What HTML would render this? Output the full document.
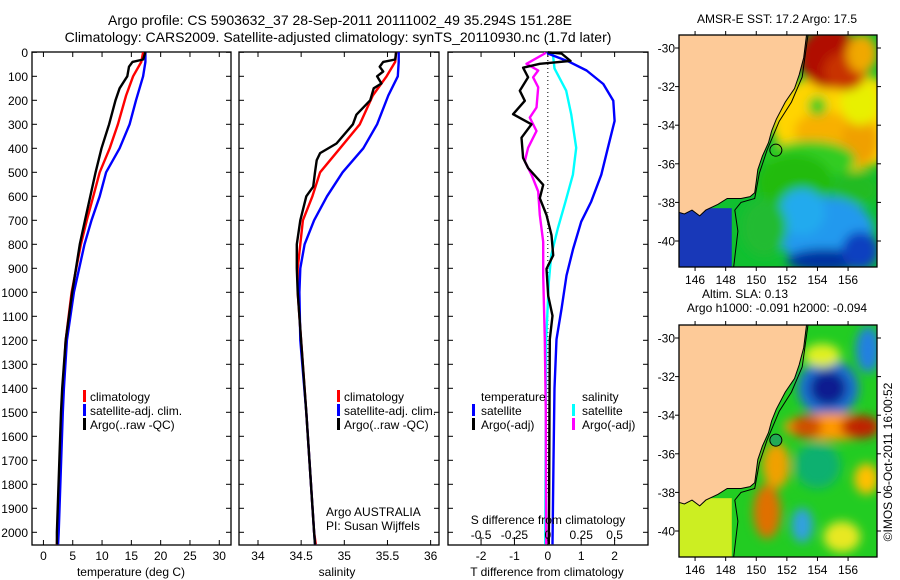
<!DOCTYPE html>
<html><head><meta charset="utf-8">
<style>
html,body{margin:0;padding:0;background:#fff;}
svg{display:block;font-family:"Liberation Sans",sans-serif;}
</style></head>
<body>
<svg id="fig" width="900" height="580" viewBox="0 0 900 580" xmlns="http://www.w3.org/2000/svg">
<defs>
<filter id="blur4" x="-50%" y="-50%" width="200%" height="200%"><feGaussianBlur stdDeviation="5"/></filter>
<clipPath id="clipTop"><rect x="679" y="35" width="198" height="232"/></clipPath>
<clipPath id="clipBot"><rect x="679" y="325" width="198" height="232"/></clipPath>
</defs>
<text x="340" y="25" font-size="14" text-anchor="middle">Argo profile: CS 5903632_37 28-Sep-2011 20111002_49 35.294S 151.28E</text>
<text x="338" y="42" font-size="14" text-anchor="middle">Climatology: CARS2009. Satellite-adjusted climatology: synTS_20110930.nc (1.7d later)</text>
<g id="charts"></g>
<g id="maps"></g>
<text transform="translate(892,462) rotate(-90)" font-size="12" text-anchor="middle">©IMOS 06-Oct-2011 16:00:52</text>
</svg>
<script>
// ---- Data ----
var tDepthRed = [0,40,100,180,300,400,500,600,700,800,1000,1200,1400,1500,2000,2050];
var tempClim = [17.0,16.7,15.3,14.1,12.7,11.3,9.6,8.5,7.4,6.4,4.8,3.8,3.3,3.1,2.4,2.3];
var tDepthBlue = [0,40,100,200,300,400,500,600,700,800,1000,1200,1400,1500,2000,2050];
var tempSat = [17.4,17.4,17.0,15.8,14.7,13.0,10.7,9.6,8.2,7.0,5.2,4.0,3.5,3.3,2.6,2.5];
var tDepthArgo = [0,30,40,60,100,150,200,300,400,500,600,700,800,1000,1200,1400,1500,2000,2050];
var tempArgo = [17.4,17.0,15.2,14.6,14.3,13.0,12.3,11.2,9.9,8.9,8.0,7.1,6.2,4.9,3.8,3.2,3.0,2.3,2.3];

var sDepthRed = [0,40,100,180,300,400,500,600,700,800,900,1000,1200,1500,2000,2050];
var salClim = [35.60,35.59,35.49,35.33,35.18,34.95,34.72,34.63,34.52,34.49,34.46,34.46,34.50,34.56,34.65,34.67];
var sDepthBlue = [0,40,100,180,300,400,500,600,700,800,900,1000,1200,1500,2000,2050];
var salSat = [35.63,35.63,35.62,35.51,35.38,35.22,34.98,34.80,34.65,34.54,34.49,34.48,34.49,34.56,34.65,34.66];
var sDepthArgo = [0,30,40,60,80,100,130,150,200,260,300,380,420,450,500,560,600,700,800,900,1000,1200,1500,2000,2050];
var salArgo = [35.60,35.59,35.45,35.41,35.45,35.38,35.43,35.34,35.30,35.14,35.10,34.91,34.72,34.68,34.66,34.64,34.56,34.49,34.45,34.45,34.46,34.50,34.56,34.65,34.66];

var dDepthTSat = [0,5,40,76,132,202,286,398,510,622,706,818,930,1070,1196,1400,1700,2050];
var dTempSat = [0,0.0,0.65,1.16,1.66,1.96,2.0,1.8,1.6,1.3,1.0,0.76,0.56,0.41,0.26,0.2,0.17,0.14];
var dDepthTArgo = [0,5,36,48,64,104,160,202,258,300,356,440,482,552,608,678,762,846,902,1014,1098,1196,1450,1800,2050];
var dTempArgo = [0,0.41,0.68,-0.24,-0.74,-0.59,-0.84,-0.69,-1.04,-0.49,-0.79,-0.74,-0.59,-0.14,-0.24,-0.04,0.11,0.16,-0.04,0.01,0.14,0.06,0.05,0.04,0.03];
var dDepthSSat = [0,5,67,160,258,398,510,622,734,846,958,1196,1500,2050];
var dSalSat = [0.0375,0.0375,0.05,0.1375,0.175,0.2125,0.1875,0.1325,0.075,0.025,0.0075,-0.0125,-0.015,-0.02];
var dDepthSArgo = [0,5,48,76,104,146,230,272,328,398,454,510,580,678,790,930,1196,1500,2050];
var dSalArgo = [-0.02,-0.0225,-0.16,-0.0725,-0.11,-0.0725,-0.085,-0.135,-0.085,-0.1475,-0.1725,-0.1225,-0.0725,-0.06,-0.035,-0.035,-0.0225,-0.015,-0.012];

var depthTicks = [0,100,200,300,400,500,600,700,800,900,1000,1100,1200,1300,1400,1500,1600,1700,1800,1900,2000];
var tempTicks = [0,5,10,15,20,25,30];
var salTicks = [34,34.5,35,35.5,36];
var salTickLabels = ["34","34.5","35","35.5","36"];
var dTTicks = [-2,-1,0,1,2];
var dSTicks = [-0.5,-0.25,0,0.25,0.5];
var dSTickLabels = ["-0.5","-0.25","0","0.25","0.5"];
var lonTicks = [146,148,150,152,154,156];
var latTicks = [-30,-32,-34,-36,-38,-40];

// ---- Helpers ----
var NS = "http://www.w3.org/2000/svg";
function mk(tag, attrs, parent, text){
  var e = document.createElementNS(NS, tag);
  for (var k in attrs) e.setAttribute(k, attrs[k]);
  if (text !== undefined) e.textContent = text;
  parent.appendChild(e);
  return e;
}
var charts = document.getElementById('charts');
var TOP = 52, BOT = 545;
function yD(d){ return 52.3 + d * 0.24; }

function makePanel(name, x0, x1, xmin, xmax){
  var sx = function(v){ return x0 + (v - xmin) / (xmax - xmin) * (x1 - x0); };
  var g = mk('g', {}, charts);
  
  
  var fr = mk('rect', {x:x0, y:TOP, width:x1-x0, height:BOT-TOP, fill:'none', stroke:'#000', 'stroke-width':1.3}, g);
  
  
  depthTicks.forEach(function(d){
    var y = yD(d);
    var t1 = mk('line', {x1:x0, x2:x0+5, y1:y, y2:y, stroke:'#000'}, g);
    
    
    var t2 = mk('line', {x1:x1, x2:x1-5, y1:y, y2:y, stroke:'#000'}, g);
    
    
  });
  return {g:g, sx:sx};
}
function line(p, xs, ds, color, name, width){
  var pts = xs.map(function(v,i){ return p.sx(v).toFixed(1) + ',' + yD(ds[i]).toFixed(1); }).join(' ');
  var pl = mk('polyline', {points:pts, fill:'none', stroke:color, 'stroke-width':width||2.4, 'stroke-linejoin':'round'}, p.g);
  
  
}
function xTicks(p, ticks, labels, yTick, yLab){
  ticks.forEach(function(v,i){
    var x = p.sx(v);
    var t = mk('line', {x1:x, x2:x, y1:yTick, y2:yTick-5, stroke:'#000'}, p.g);
    
    
    var tx = mk('text', {x:x, y:yLab, 'font-size':12, 'text-anchor':'middle'}, p.g, labels ? labels[i] : String(v));
    
    
  });
}
function topTicks(p, ticks){
  ticks.forEach(function(v){
    var x = p.sx(v);
    var t = mk('line', {x1:x, x2:x, y1:TOP, y2:TOP+5, stroke:'#000'}, p.g);
    
    
  });
}
function txt(g, x, y, s, name, anchor, size){
  var t = mk('text', {x:x, y:y, 'font-size':size||12, 'text-anchor':anchor||'start'}, g, s);
  
  
  return t;
}
function legendBar(g, x, y, color, name){
  var r = mk('rect', {x:x, y:y-10, width:3, height:12, fill:color}, g);
  
  
}

// ---- Panel 1: temperature ----
var p1 = makePanel('temperature-panel', 32, 231, -1.95, 32);
depthTicks.forEach(function(d){
  txt(p1.g, 28, yD(d)+4.5, String(d), 'depth-tick-label', 'end');
});
topTicks(p1, tempTicks);
xTicks(p1, tempTicks, null, BOT, 560);
txt(p1.g, 131, 576, 'temperature (deg C)', 'x-axis-title-temperature', 'middle');
line(p1, tempClim, tDepthRed, '#ff0000', 'temp-climatology-line');
line(p1, tempSat, tDepthBlue, '#0000ff', 'temp-satellite-line');
line(p1, tempArgo, tDepthArgo, '#000000', 'temp-argo-line');
legendBar(p1.g, 83, 400, '#ff0000', 'legend-climatology-swatch');
txt(p1.g, 90, 401, 'climatology', 'legend-climatology');
legendBar(p1.g, 83, 414, '#0000ff', 'legend-satellite-swatch');
txt(p1.g, 90, 415, 'satellite-adj. clim.', 'legend-satellite');
legendBar(p1.g, 83, 428, '#000000', 'legend-argo-swatch');
txt(p1.g, 90, 429, 'Argo(..raw -QC)', 'legend-argo');

// ---- Panel 2: salinity ----
var p2 = makePanel('salinity-panel', 239, 439, 33.78, 36.097);
topTicks(p2, salTicks);
xTicks(p2, salTicks, salTickLabels, BOT, 560);
txt(p2.g, 337, 576, 'salinity', 'x-axis-title-salinity', 'middle');
line(p2, salClim, sDepthRed, '#ff0000', 'sal-climatology-line');
line(p2, salSat, sDepthBlue, '#0000ff', 'sal-satellite-line');
line(p2, salArgo, sDepthArgo, '#000000', 'sal-argo-line');
legendBar(p2.g, 337, 400, '#ff0000', 'legend-climatology-swatch');
txt(p2.g, 344, 401, 'climatology', 'legend-climatology');
legendBar(p2.g, 337, 414, '#0000ff', 'legend-satellite-swatch');
txt(p2.g, 344, 415, 'satellite-adj. clim.', 'legend-satellite');
legendBar(p2.g, 337, 428, '#000000', 'legend-argo-swatch');
txt(p2.g, 344, 429, 'Argo(..raw -QC)', 'legend-argo');
txt(p2.g, 326, 516, 'Argo AUSTRALIA', 'argo-program-label');
txt(p2.g, 326, 530, 'PI: Susan Wijffels', 'pi-label');

// ---- Panel 3: differences ----
var p3 = makePanel('difference-panel', 448, 648, -2.99, 3.0);
var p3s = {g:p3.g, sx:function(v){ return p3.sx(v*4); }};
var zl = mk('line', {x1:p3.sx(0), x2:p3.sx(0), y1:TOP, y2:yD(1850), stroke:'#000', 'stroke-dasharray':'1,3'}, p3.g);


topTicks(p3, dTTicks);
xTicks(p3, dTTicks, null, BOT, 560);
line(p3s, dSalSat, dDepthSSat, '#00ffff', 'sal-diff-satellite-line');
line(p3, dTempSat, dDepthTSat, '#0000ff', 'temp-diff-satellite-line');
line(p3s, dSalArgo, dDepthSArgo, '#ff00ff', 'sal-diff-argo-line');
line(p3, dTempArgo, dDepthTArgo, '#000000', 'temp-diff-argo-line');
dSTicks.forEach(function(v,i){
  var x = p3s.sx(v);
  var t = mk('line', {x1:x, x2:x, y1:541, y2:537, stroke:'#000'}, p3.g);
  
  
  txt(p3.g, x, 539, dSTickLabels[i], 's-tick-label', 'middle');
});
txt(p3.g, 548, 524, 'S difference from climatology', 's-axis-title', 'middle');
txt(p3.g, 547, 576, 'T difference from climatology', 't-axis-title', 'middle');
txt(p3.g, 481, 401, 'temperature', 'legend-temperature-header');
legendBar(p3.g, 472, 414, '#0000ff', 'legend-t-satellite-swatch');
txt(p3.g, 481, 415, 'satellite', 'legend-t-satellite');
legendBar(p3.g, 472, 428, '#000000', 'legend-t-argo-swatch');
txt(p3.g, 481, 429, 'Argo(-adj)', 'legend-t-argo');
txt(p3.g, 582, 401, 'salinity', 'legend-salinity-header');
legendBar(p3.g, 572, 414, '#00ffff', 'legend-s-satellite-swatch');
txt(p3.g, 582, 415, 'satellite', 'legend-s-satellite');
legendBar(p3.g, 572, 428, '#ff00ff', 'legend-s-argo-swatch');
txt(p3.g, 582, 429, 'Argo(-adj)', 'legend-s-argo');

// ---- Maps ----
var maps = document.getElementById('maps');
var coastLon = [144.9,153.3,153.1,152.8,152.5,151.9,151.3,151.0,150.8,150.4,150.1,150.0,149.9,149.6,149.0,148.1,147.5,146.7,146.3,145.8,145.3,144.9];
var coastLat = [-29.2,-29.2,-30.5,-31.4,-32.1,-32.8,-33.7,-34.3,-34.9,-35.6,-36.3,-36.9,-37.5,-37.7,-37.8,-37.8,-38.1,-38.4,-38.7,-38.4,-38.6,-38.5];
var shelfLon = [153.4,153.0,152.3,151.5,150.7,150.2,149.9,149.0,148.6,148.8,148.5];
var shelfLat = [-29.2,-31.5,-32.8,-33.8,-35.3,-36.5,-37.8,-38.0,-38.4,-39.5,-41.5];
var argoLon = 151.28, argoLat = -35.294;

function makeMap(name, y0, title1, title2, blobs, bg, bassColor){
  var X0 = 679, W = 198, H = 232;
  var lx = function(lon){ return X0 + (lon - 144.95) * 15.3; };
  var ly = function(lat){ return y0 + 13 + (-30 - lat) * 19.3; };
  var g = mk('g', {}, maps);
  
  
  var inner = mk('g', {'clip-path': 'url(#' + (y0 < 100 ? 'clipTop' : 'clipBot') + ')'}, g);
  var bgr = mk('rect', {x:X0, y:y0, width:W, height:H, fill:bg}, inner);
  
  
  var bg2 = mk('g', {filter:'url(#blur4)'}, inner);
  blobs.forEach(function(b){
    var e = mk('ellipse', {cx:lx(b[0]), cy:ly(b[1]), rx:b[2]*15.3, ry:b[3]*19.3, fill:b[4]}, bg2);
    
    
  });
  var bass = mk('rect', {x:lx(144.9), y:ly(-38.3), width:lx(148.4)-lx(144.9), height:ly(-41.5)-ly(-38.3), fill:bassColor}, inner);
  
  
  var cpts = coastLon.map(function(v,i){ return lx(v).toFixed(1)+','+ly(coastLat[i]).toFixed(1); }).join(' ');
  var land = mk('polygon', {points:cpts, fill:'#fdca98', stroke:'#000', 'stroke-width':1}, inner);
  
  
  var spts = shelfLon.map(function(v,i){ return lx(v).toFixed(1)+','+ly(shelfLat[i]).toFixed(1); }).join(' ');
  var sh = mk('polyline', {points:spts, fill:'none', stroke:'#000', 'stroke-width':1}, inner);
  
  
  var fr = mk('rect', {x:X0, y:y0, width:W, height:H, fill:'none', stroke:'#000', 'stroke-width':1.3}, g);
  
  
  lonTicks.forEach(function(v){
    var x = lx(v);
    var t = mk('line', {x1:x, x2:x, y1:y0, y2:y0-4, stroke:'#000'}, g);
    
    
    var t2 = mk('line', {x1:x, x2:x, y1:y0+H, y2:y0+H+4, stroke:'#000'}, g);
    
    
    txt(g, x, y0+H+17, String(v), 'lon-tick-label', 'middle');
  });
  latTicks.forEach(function(v){
    var y = ly(v);
    var t = mk('line', {x1:X0, x2:X0-4, y1:y, y2:y, stroke:'#000'}, g);
    
    
    var t2 = mk('line', {x1:X0+W, x2:X0+W+4, y1:y, y2:y, stroke:'#000'}, g);
    
    
    txt(g, X0-4, y+4.5, String(v), 'lat-tick-label', 'end');
  });
  var c = mk('circle', {cx:lx(argoLon), cy:ly(argoLat), r:6, fill: y0 < 100 ? 'none' : '#22aa55', stroke:'#000', 'stroke-width':1}, g);
  
  
  if (title2) {
    txt(g, 745, y0-27, title1, 'map-title-line-1', 'middle');
    txt(g, 777, y0-13, title2, 'map-title-line-2', 'middle');
  } else {
    txt(g, 777, y0-12, title1, 'map-title', 'middle');
  }
}

var sstBlobs = [
  [155.5,-33.8,4.5,2.6,'#ffd400'],
  [154.5,-34.3,2.0,1.0,'#f8b000'],
  [156.8,-34.8,1.2,1.3,'#f0a000'],
  [156.8,-32.8,1.3,1.2,'#e8f000'],
  [154.8,-30.5,2.0,1.6,'#b01000'],
  [155.8,-31.2,1.4,1.0,'#c83000'],
  [156.9,-30.3,1.0,1.0,'#f0a800'],
  [154.0,-33.0,0.6,0.5,'#33cc22'],
  [153.5,-35.8,3,1.0,'#33cc22'],
  [152.5,-37,2.5,1.5,'#22bb11'],
  [156.5,-37.3,1.5,0.9,'#22bb22'],
  [154.5,-39.5,3.2,1.8,'#2299ee'],
  [153,-38.5,1.5,1.2,'#22aaee'],
  [150.5,-39.3,1.5,1.5,'#22bb33'],
  [154.5,-41,2.5,0.6,'#0030a0'],
  [156.8,-40.5,1.2,1,'#1040c0']
];
makeMap('sst-map', 35, 'AMSR-E SST: 17.2 Argo: 17.5', null, sstBlobs, '#10c030', '#1838b8');

var slaBlobs = [
  [154.7,-32.6,2.0,1.5,'#1a70d0'],
  [154.7,-32.6,1.2,0.9,'#0a1a90'],
  [157.3,-30.6,0.8,1.2,'#2080e0'],
  [154.3,-30.9,1.2,0.6,'#e0f020'],
  [155.0,-34.6,3.2,0.7,'#ff9a00'],
  [156.8,-34.6,1.3,0.6,'#c02000'],
  [153.3,-34.6,1.0,0.6,'#d05000'],
  [151.3,-36.6,0.9,1.2,'#f0a000'],
  [150.7,-39.0,0.9,1.4,'#e07000'],
  [157.2,-37.3,0.8,0.8,'#ffc000'],
  [153.0,-39.7,0.7,0.9,'#30a0e0'],
  [155.6,-40.3,1.2,0.8,'#e8e820'],
  [154.0,-36.6,1.5,1.2,'#10b070']
];
makeMap('sla-map', 325, 'Altim. SLA: 0.13', 'Argo h1000: -0.091 h2000: -0.094', slaBlobs, '#22cc22', '#ccee22');
</script>
</body></html>
